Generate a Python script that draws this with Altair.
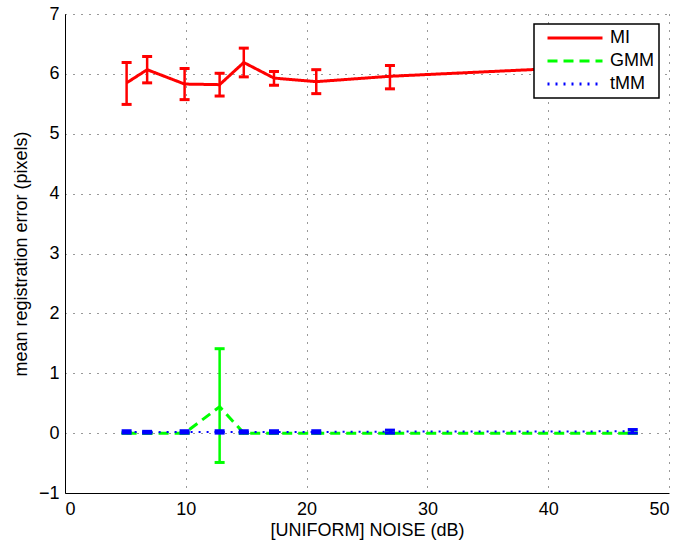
import altair as alt
import pandas as pd

# ---- data ----
series_names = ["MI", "GMM", "tMM"]
series_colors = ["#ff0000", "#00ff00", "#0000ff"]
series_dashes = [[1, 0], [10, 6], [2, 6]]

noise_db = [5.1, 6.8, 9.9, 12.8, 14.8, 17.3, 20.8, 26.9, 47.0]

mi_mean = [5.85, 6.07, 5.83, 5.82, 6.19, 5.93, 5.87, 5.96, 6.15]
mi_low = [5.49, 5.85, 5.57, 5.63, 5.95, 5.81, 5.67, 5.75, 5.95]
mi_high = [6.19, 6.29, 6.09, 6.01, 6.43, 6.04, 6.07, 6.14, 6.35]

gmm_mean = [0.0, 0.0, 0.0, 0.44, 0.0, 0.0, 0.0, 0.0, 0.0]
gmm_low = [0.0, 0.0, 0.0, -0.49, 0.0, 0.0, 0.0, 0.0, 0.0]
gmm_high = [0.0, 0.0, 0.0, 1.41, 0.0, 0.0, 0.0, 0.0, 0.0]

tmm_mean = [0.02, 0.015, 0.02, 0.02, 0.02, 0.02, 0.02, 0.025, 0.03]
tmm_low = [0.0, 0.0, 0.0, 0.0, 0.0, 0.0, 0.0, 0.0, 0.0]
tmm_high = [0.04, 0.03, 0.04, 0.04, 0.04, 0.04, 0.04, 0.05, 0.06]

x_ticks = [0, 10, 20, 30, 40, 50]
y_ticks = [-1, 0, 1, 2, 3, 4, 5, 6, 7]

rows = []
for name, m, lo, hi in [
    ("MI", mi_mean, mi_low, mi_high),
    ("GMM", gmm_mean, gmm_low, gmm_high),
    ("tMM", tmm_mean, tmm_low, tmm_high),
]:
    for x, a, b, c in zip(noise_db, m, lo, hi):
        rows.append({"series": name, "noise": x, "mean": a, "low": b, "high": c})
df = pd.DataFrame(rows)

FONT = "Liberation Sans"

x_enc = alt.X(
    "noise:Q",
    scale=alt.Scale(domain=[0, 50], nice=False, zero=False),
    axis=alt.Axis(values=x_ticks, format="d", title="[UNIFORM] NOISE (dB)", labelPadding=7, titlePadding=3),
)
y_scale = alt.Scale(domain=[-1, 7], nice=False, zero=False)
y_enc = alt.Y(
    "mean:Q",
    scale=y_scale,
    axis=alt.Axis(values=y_ticks, format="d", title="mean registration error (pixels)", labelPadding=6, titlePadding=8),
)

legend = alt.Legend(
    title=None,
    orient="none",
    legendX=469,
    legendY=10,
    symbolType="stroke",
    symbolSize=3025,
    symbolStrokeWidth=3,
    clipHeight=18,
    rowPadding=5,
    padding=5,
    symbolOffset=7,
    labelOffset=6,
    labelFont=FONT,
    labelFontSize=18,
    labelColor="black",
    strokeColor="black",
    fillColor="white",
)

color_line = alt.Color(
    "series:N",
    scale=alt.Scale(domain=series_names, range=series_colors),
    legend=legend,
)
dash_line = alt.StrokeDash(
    "series:N",
    scale=alt.Scale(domain=series_names, range=series_dashes),
    legend=legend,
)
color_plain = alt.Color(
    "series:N",
    scale=alt.Scale(domain=series_names, range=series_colors),
    legend=None,
)

base = alt.Chart(df)


def errorbars(names, width):
    sub = base.transform_filter(alt.FieldOneOfPredicate(field="series", oneOf=names))
    bar = sub.mark_rule(strokeWidth=width, opacity=1).encode(
        x="noise:Q",
        y=alt.Y("low:Q", scale=y_scale),
        y2="high:Q",
        color=color_plain,
    )
    caps = sub.transform_fold(["low", "high"], as_=["end", "val"]).mark_tick(
        orient="horizontal", size=10, thickness=3, opacity=1
    ).encode(
        x="noise:Q",
        y=alt.Y("val:Q", scale=y_scale),
        color=color_plain,
    )
    return bar + caps


line_main = base.transform_filter(
    alt.FieldOneOfPredicate(field="series", oneOf=["MI", "GMM"])
).mark_line(strokeWidth=3, opacity=1).encode(x=x_enc, y=y_enc, color=color_line, strokeDash=dash_line)

line_tmm = base.transform_filter(
    alt.FieldOneOfPredicate(field="series", oneOf=["tMM"])
).mark_line(strokeWidth=2, opacity=1).encode(x=x_enc, y=y_enc, color=color_line, strokeDash=dash_line)

chart = (
    alt.layer(
        line_main,
        errorbars(["MI"], 2.5),
        errorbars(["GMM"], 2.5),
        line_tmm,
        errorbars(["tMM"], 2.5),
    )
    .properties(
        width=604,
        height=479,
        autosize="none",
        padding={"left": 65, "top": 14, "right": 17, "bottom": 57},
        background="white",
    )
    .configure_view(stroke=None)
    .configure_axis(
        grid=True,
        gridColor="black",
        gridDash=[1, 7],
        gridOpacity=0.8,
        gridWidth=1,
        domainColor="black",
        domainWidth=1,
        ticks=False,
        labelFont=FONT,
        labelFontSize=18,
        labelColor="black",
        titleFont=FONT,
        titleFontSize=18,
        titleFontWeight="normal",
        titleColor="black",
    )
    .configure_legend(strokeWidth=1.5)
)

chart.save("out.html", embed_options={"renderer": "svg", "actions": False})
